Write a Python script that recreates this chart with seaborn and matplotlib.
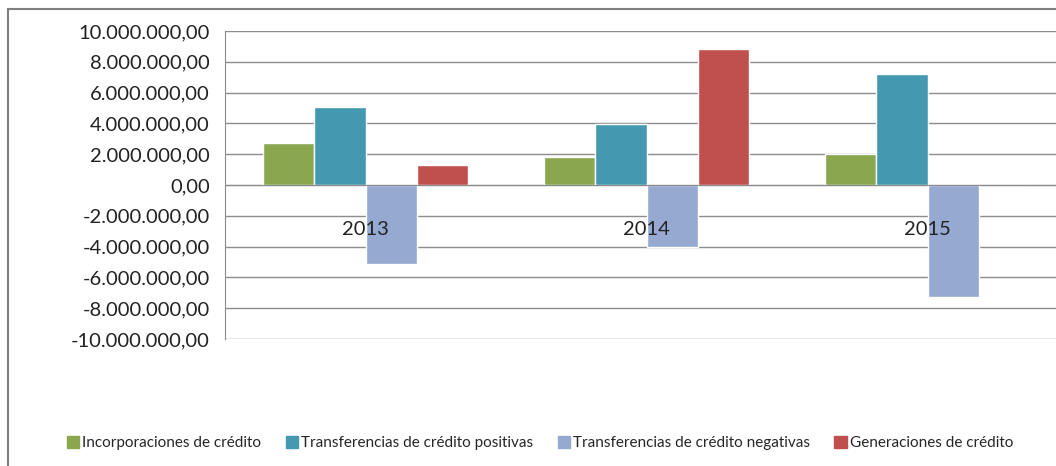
import numpy as np
import pandas as pd
import seaborn as sns
import matplotlib.pyplot as plt
from matplotlib.patches import Rectangle
from matplotlib.ticker import FuncFormatter

years = ["2013", "2014", "2015"]
series = ["Incorporaciones de crédito", "Transferencias de crédito positivas",
          "Transferencias de crédito negativas", "Generaciones de crédito"]
incorporaciones = [2730000, 1820000, 2000000]
transf_positivas = [5060000, 3960000, 7200000]
transf_negativas = [-5100000, -4000000, -7250000]
generaciones = [1300000, 8820000, 0]
colors = ["#8AA64E", "#4498B0", "#95A9D1", "#C0504D"]

df = pd.DataFrame({
    "year": years * 4,
    "serie": [s for s in series for _ in years],
    "value": incorporaciones + transf_positivas + transf_negativas + generaciones,
})

sns.set_style("white")
plt.rcParams["font.family"] = ["Lato", "DejaVu Sans"]

fig = plt.figure(figsize=(10.56, 4.66), dpi=100)
ax = fig.add_axes([225 / 1056, 1 - 339 / 466, 843 / 1056, 308 / 466])

sns.barplot(data=df, x="year", y="value", hue="serie", palette=colors,
            width=0.727, saturation=1, ax=ax, legend=False)

ax.set_ylim(-10000000, 10000000)
ax.set_yticks(np.arange(-10000000, 10000001, 2000000))
ax.yaxis.set_major_formatter(FuncFormatter(
    lambda v, p: f"{v:,.2f}".replace(",", "X").replace(".", ",").replace("X", ".")))
ax.set_xlim(-0.5, 2.5)
ax.grid(axis="y", color="#8c8c8c", linewidth=1)
ax.set_axisbelow(True)
ax.xaxis.set_zorder(3)
ax.set_xlabel("")
ax.set_ylabel("")

for s in ["top", "right"]:
    ax.spines[s].set_visible(False)
ax.spines["left"].set_color("#8c8c8c")
ax.spines["bottom"].set_color("#8c8c8c")
ax.spines["bottom"].set_position(("data", 0))

ax.tick_params(axis="y", length=6, color="#8c8c8c", labelsize=14.5, labelcolor="#222222", pad=5)
ax.tick_params(axis="x", which="major", length=0, pad=26, labelsize=14.5, labelcolor="#222222")
ax.set_xticks([0.5, 1.5], minor=True)
ax.tick_params(axis="x", which="minor", length=5, color="#8c8c8c")

handles = [Rectangle((0, 0), 1, 1, color=c) for c in colors]
fig.legend(handles, series, loc="center", bbox_to_anchor=(540 / 1056, 1 - 443 / 466),
           ncol=4, frameon=False, fontsize=11, handlelength=0.8, handleheight=0.8,
           handletextpad=0.2, columnspacing=1.6)

fig.add_artist(Rectangle((8 / 1056, -0.05), 1.1, 1 - 9 / 466 + 0.05, transform=fig.transFigure,
                         fill=False, edgecolor="#7f7f7f", linewidth=1.5))

fig.savefig("out.png", dpi=100)
